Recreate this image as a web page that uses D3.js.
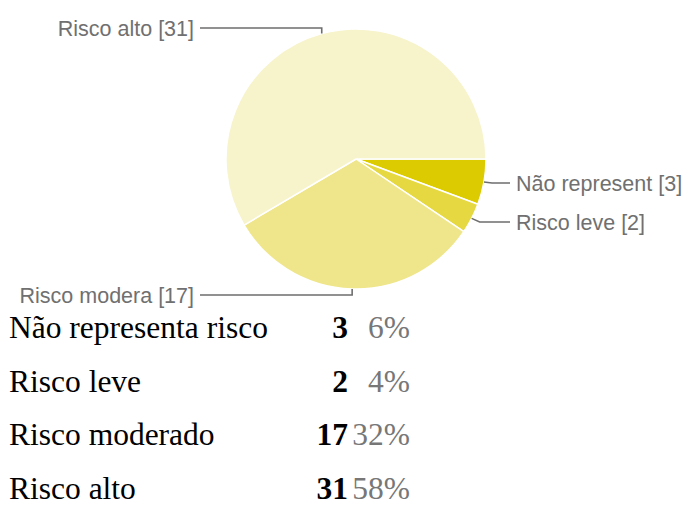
<!DOCTYPE html>
<html>
<head>
<meta charset="utf-8">
<script src="https://cdn.jsdelivr.net/npm/d3@7"></script>
<style>
  body { margin: 0; background: #fff; }
</style>
</head>
<body>
<svg id="chart" width="687" height="507"></svg>
<script>
// answers, in the order the pie draws them
const categories = ["Não representa risco", "Risco leve", "Risco moderado", "Risco alto"];
const shortLabels = ["Não represent", "Risco leve", "Risco modera", "Risco alto"];
const counts = [3, 2, 17, 31];
const percents = ["6%", "4%", "32%", "58%"];
const colors = ["#dccb00", "#e5d840", "#efe68b", "#f7f3ca"];

const svg = d3.select("#chart");

const cx = 356, cy = 159, r = 130;

const pie = d3.pie()
  .sort(null)
  .startAngle(Math.PI / 2)
  .endAngle(Math.PI / 2 + 2 * Math.PI);

const arcs = pie(counts);

const arc = d3.arc()
  .innerRadius(0)
  .outerRadius(r);

const g = svg.append("g")
  .attr("transform", `translate(${cx},${cy})`);

g.selectAll("path")
  .data(arcs)
  .join("path")
  .attr("d", arc)
  .attr("fill", (d, i) => colors[i])
  .attr("stroke", "#fff")
  .attr("stroke-width", 1.5)
  .attr("stroke-linejoin", "round");

// leader lines + labels
let lastRightY = -Infinity;
arcs.forEach((d, i) => {
  const mid = (d.startAngle + d.endAngle) / 2;
  const px = cx + r * Math.sin(mid);
  const py = cy - r * Math.cos(mid);
  const text = `${shortLabels[i]} [${counts[i]}]`;
  let pts, tx, ty, anchor;

  if (Math.abs(Math.cos(mid)) > 0.9) {
    // top or bottom of the pie: elbow straight up/down, run to the left
    ty = Math.cos(mid) > 0 ? cy - r - 1 : cy + r + 6;
    pts = [[px, py], [px, ty], [200, ty]];
    tx = 194; anchor = "end";
  } else {
    ty = Math.max(Math.round(py) + 1, lastRightY + 39);
    lastRightY = ty;
    pts = [[px, py], [px + 8, ty], [510, ty]];
    tx = 516; anchor = "start";
  }

  svg.append("polyline")
    .attr("points", pts.map(p => p.join(",")).join(" "))
    .attr("fill", "none")
    .attr("stroke", "#6e6e6e")
    .attr("stroke-width", 1.6);

  svg.append("text")
    .attr("x", tx)
    .attr("y", ty)
    .attr("dy", "0.35em")
    .attr("text-anchor", anchor)
    .style("font-family", "'Liberation Sans', Arial, sans-serif")
    .style("font-size", "21.5px")
    .attr("fill", "#707070")
    .text(text);
});

// summary table below the pie
const rowY = d3.scalePoint()
  .domain(categories)
  .range([338, 499]);

const rows = svg.append("g")
  .style("font-family", "'Liberation Serif', 'Times New Roman', serif")
  .style("font-size", "31.5px");

rows.selectAll(".cat")
  .data(categories)
  .join("text")
  .attr("class", "cat")
  .attr("x", 9)
  .attr("y", d => rowY(d))
  .attr("fill", "#000")
  .text(d => d);

rows.selectAll(".cnt")
  .data(categories)
  .join("text")
  .attr("class", "cnt")
  .attr("x", 348)
  .attr("y", d => rowY(d))
  .attr("text-anchor", "end")
  .attr("font-weight", "bold")
  .attr("fill", "#000")
  .text((d, i) => counts[i]);

rows.selectAll(".pct")
  .data(categories)
  .join("text")
  .attr("class", "pct")
  .attr("x", 410)
  .attr("y", d => rowY(d))
  .attr("text-anchor", "end")
  .attr("fill", "#777")
  .text((d, i) => percents[i]);
</script>
</body>
</html>
